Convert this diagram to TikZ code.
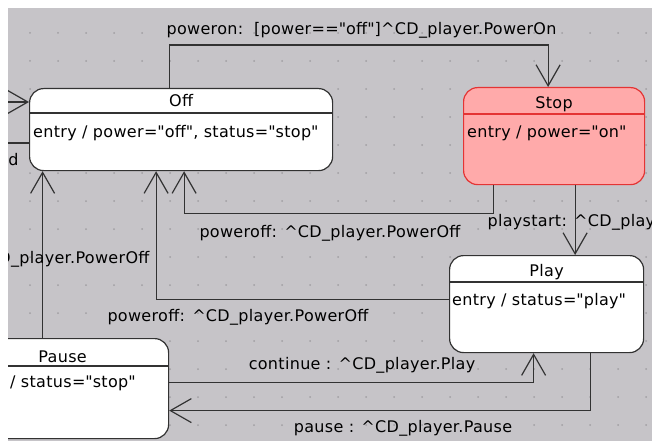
\documentclass[tikz,border=0pt]{standalone}
\usepackage{fontspec}
\setmainfont[LetterSpace=2]{DejaVu Sans}
\usetikzlibrary{arrows.meta, positioning, calc}

\definecolor{canvasgray}{RGB}{198,196,200}
\definecolor{griddot}{RGB}{160,158,162}
\definecolor{stopfill}{RGB}{255,170,170}
\definecolor{stopline}{RGB}{228,52,52}
\definecolor{wire}{RGB}{50,50,50}

\begin{document}
\begin{tikzpicture}[x=1pt, y=-1pt, font=\fontsize{16}{19}\selectfont,
    state/.style={draw=wire, fill=white, line width=1.2pt, rounded corners=14pt, anchor=north west, inner sep=0pt},
    activestate/.style={state, draw=stopline, fill=stopfill},
    statename/.style={inner sep=0pt},
    entry/.style={anchor=west, inner sep=0pt},
    trans/.style={draw=wire, line width=1.2pt},
    ->, >={Straight Barb[length=21pt, width=24pt]}]
    \useasboundingbox (0,0) rectangle (652,441);
    \clip (8,8) rectangle (652,441);
    \fill[canvasgray] (8,8) rectangle (652,441);
    % grid dots
    \foreach \i in {0,...,23}
        \foreach \j in {0,...,15}
            \fill[griddot] (2+28*\i, 5+28*\j) circle (1pt);

    % states
    \node[state, minimum width=303pt, minimum height=82pt] (off) at (29,88) {};
    \node[statename] (offname) at ($(off.north)+(0,13)$) {Off};
    \draw[-, wire, line width=1.2pt] ($(off.north west)+(0,25)$) -- ($(off.north east)+(0,25)$);
    \node[entry] (offentry) at ($(off.north west)+(4,45)$) {entry / power=\textquotedbl off\textquotedbl, status=\textquotedbl stop\textquotedbl};

    \node[activestate, minimum width=181pt, minimum height=97pt] (stop) at (463,87) {};
    \node[statename] (stopname) at ($(stop.north)+(0,17)$) {Stop};
    \draw[-, stopline, line width=1.2pt] ($(stop.north west)+(0,27)$) -- ($(stop.north east)+(0,27)$);
    \node[entry] (stopentry) at ($(stop.north west)+(4,46)$) {entry / power=\textquotedbl on\textquotedbl};

    \node[state, minimum width=194pt, minimum height=97pt] (play) at (449,255) {};
    \node[statename] (playname) at ($(play.north)+(0,17)$) {Play};
    \draw[-, wire, line width=1.2pt] ($(play.north west)+(0,27)$) -- ($(play.north east)+(0,27)$);
    \node[entry] (playentry) at ($(play.north west)+(3,46)$) {entry / status=\textquotedbl play\textquotedbl};

    \node[state, minimum width=212pt, minimum height=100pt] (pause) at (-44,338) {};
    \node[statename] (pausename) at ($(pause.north)+(0,19)$) {Pause};
    \draw[-, wire, line width=1.2pt] ($(pause.north west)+(0,28)$) -- ($(pause.north east)+(0,28)$);
    \node[entry] (pauseentry) at ($(pause.north west)+(5,45)$) {entry / status=\textquotedbl stop\textquotedbl};

    % transitions
    \coordinate (init) at (-10,102);
    \coordinate (exit) at (-10,143);
    \draw[trans] (init) -- (init -| off.west);
    \draw[trans, -] (off.west |- exit) -- (exit);
    \node[anchor=east] (exitlabel) at (22,160) {d};

    \draw[trans] ([xshift=-12pt]off.north) -- ++(0,-43) -| ([xshift=-6pt]stop.north);
    \node[anchor=west] (poweron) at (163,30) {poweron:\ \ [power==\textquotedbl off\textquotedbl]\textasciicircum CD\_player.PowerOn};

    \draw[trans] ([xshift=-61pt]stop.south) -- ++(0,28) -| ([xshift=3pt]off.south);
    \node (stopoff) at (330,233) {poweroff: \textasciicircum CD\_player.PowerOff};

    \draw[trans] ([xshift=21pt]stop.south) -- ([xshift=21pt]stop.south |- play.north);
    \node[anchor=west] (playstart) at (484,222) {playstart: \textasciicircum CD\_player.Play};

    \draw[trans] ([yshift=5pt]play.west) -| ([xshift=-25pt]off.south);
    \node (playoff) at (238,317) {poweroff: \textasciicircum CD\_player.PowerOff};

    \draw[trans] ([xshift=-20pt]pause.north) -- ([xshift=-20pt]pause.north |- off.south);
    \node[anchor=east] (pauseoff) at (153,259) {poweroff: \textasciicircum CD\_player.PowerOff};

    \draw[trans] ([yshift=6pt]pause.east) -| ([xshift=-13pt]play.south);
    \node (continue) at (362,365) {continue : \textasciicircum CD\_player.Play};

    \draw[trans] ([xshift=44pt]play.south) |- ([yshift=-22pt]pause.east);
    \node (pauselabel) at (403,428) {pause : \textasciicircum CD\_player.Pause};
\end{tikzpicture}
\end{document}
